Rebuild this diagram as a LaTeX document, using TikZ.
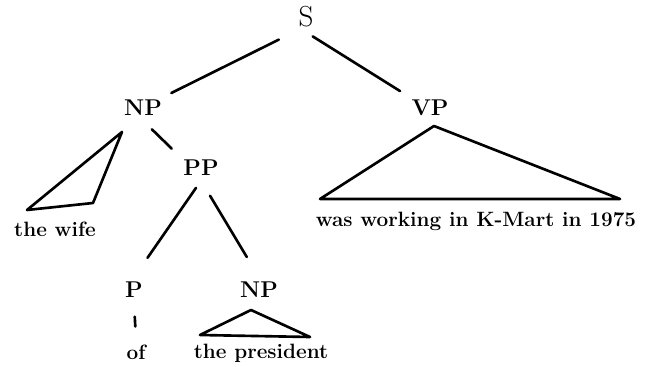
\documentclass[tikz,border=0pt]{standalone}
\begin{document}
\begin{tikzpicture}[x=0.2mm, y=-0.2mm, line width=1.5pt, line cap=round, line join=round,
        every node/.style={inner sep=2pt},
        lab/.style={font=\fontsize{13}{15}\selectfont\bfseries},
        words/.style={anchor=base, font=\fontsize{11.8}{13}\selectfont\bfseries}]
            \useasboundingbox (0,0) rectangle (651,366);
            \node[font=\fontsize{16.5}{18}\selectfont] (S) at (306,17) {S};
            \node[lab] (NP1) at (143,108) {NP};
            \node[lab] (VP) at (430,108) {VP};
            \node[lab] (PP) at (201,168) {PP};
            \node[lab] (P) at (134,290) {P};
            \node[lab] (NP2) at (259,290) {NP};
            \node[words] (wife) at (55,236) {the wife};
            \node[words] (vpwords) at (476,226) {was working in K-Mart in 1975};
            \node[words] (of) at (136,359) {of};
            \node[words] (pres) at (261,358) {the president};

            \coordinate (wifeTop) at (122,132);
            \coordinate (wifeL) at (27,210);
            \coordinate (wifeR) at (93,203);
            \coordinate (vpTop) at (434,126);
            \coordinate (vpL) at (320,199);
            \coordinate (vpR) at (620,199);
            \coordinate (presTop) at (251,310);
            \coordinate (presL) at (200,335);
            \coordinate (presR) at (310,337);

            \draw[shorten <=9.5pt, shorten >=3pt] (S.south west) -- (NP1.north east);
            \draw[shorten <=4.5pt, shorten >=4.5pt] (S.south) -- (VP.north west);
            \draw[shorten <=7pt, shorten >=5.5pt] (NP1.south) -- (PP.north west);
            \draw[shorten <=5pt, shorten >=13.5pt] (PP.south) -- (P.north);
            \draw[shorten <=10pt, shorten >=13.5pt] (PP.south) -- (NP2.north);
            \draw[shorten <=8pt, shorten >=7.5pt] (P.south) -- (of.north);
            \draw (wifeTop) -- (wifeL) -- (wifeR) -- cycle;
            \draw (vpTop) -- (vpL) -- (vpR) -- cycle;
            \draw (presTop) -- (presL) -- (presR) -- cycle;
        \end{tikzpicture}
\end{document}
